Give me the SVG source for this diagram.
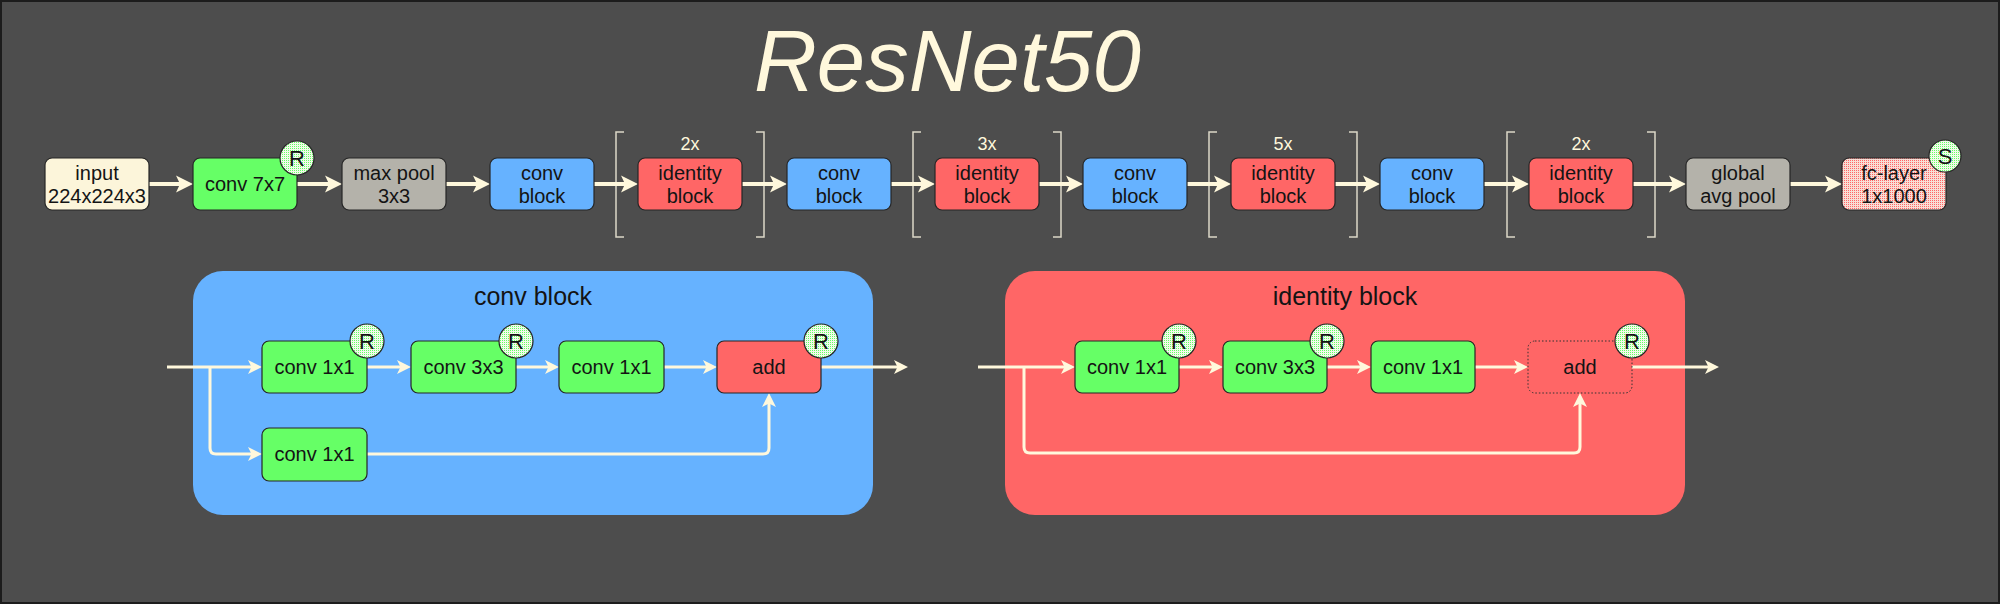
<svg xmlns="http://www.w3.org/2000/svg" width="2000" height="604" viewBox="0 0 2000 604">
<style>
.t{font-family:"Liberation Sans",Arial,sans-serif;font-size:20px;fill:#141414;text-anchor:middle}
.ttl{font-family:"Liberation Sans",Arial,sans-serif;font-size:25px;fill:#141414;text-anchor:middle}
.mul{font-family:"Liberation Sans",Arial,sans-serif;font-size:18px;fill:#FFF8DC;text-anchor:middle}
.badge{font-family:"Liberation Sans",Arial,sans-serif;font-size:22px;fill:#141414;text-anchor:middle}
.box{stroke:#262626;stroke-width:1.2}
.cream{fill:#FCF5DA}.green{fill:#66FF66}.grey{fill:#B4B2AA}.blue{fill:#66B2FF}.red{fill:#FF6666}
.circ{fill:url(#gdots);stroke:#262626;stroke-width:1.2}
.big{fill:none;stroke:#FFF8DC;stroke-width:4;marker-end:url(#ahBig)}
.sm{fill:none;stroke:#FFF8DC;stroke-width:3}
.sma{marker-end:url(#ahSm)}
.br{fill:none;stroke:#DCD8C8;stroke-width:1.5}
</style>
<defs>
<marker id="ahBig" markerUnits="userSpaceOnUse" viewBox="0 -9 18 18" markerWidth="18" markerHeight="18" refX="5" refY="0" orient="auto">
<path d="M0,-8.5 L17,0 L0,8.5 L4,0 Z" fill="#FFF8DC"/>
</marker>
<marker id="ahSm" markerUnits="userSpaceOnUse" viewBox="0 -8 16 16" markerWidth="16" markerHeight="16" refX="4" refY="0" orient="auto">
<path d="M0,-7 L14,0 L0,7 L3.5,0 Z" fill="#FFF8DC"/>
</marker>
<pattern id="gdots" width="2" height="2" patternUnits="userSpaceOnUse">
<rect width="2" height="2" fill="#F2FBEA"/>
<rect width="1" height="1" fill="#66FF66"/>
</pattern>
<pattern id="pdots" width="2" height="2" patternUnits="userSpaceOnUse">
<rect width="2" height="2" fill="#F8DED6"/>
<rect width="1" height="1" fill="#FF6666"/>
</pattern>
</defs>
<rect x="0" y="0" width="2000" height="604" fill="#4D4D4D"/>
<rect x="1" y="1" width="1998" height="602" fill="none" stroke="#1C1C1C" stroke-width="2"/>
<text x="754" y="91" font-family="'Liberation Sans',Arial,sans-serif" font-size="87" font-style="italic" fill="#FFF8DC">ResNet50</text>

<g id="brackets">
<path class="br" d="M624,132 H616 V237 H624"/><path class="br" d="M756,132 H764 V237 H756"/>
<path class="br" d="M921,132 H913 V237 H921"/><path class="br" d="M1053,132 H1061 V237 H1053"/>
<path class="br" d="M1217,132 H1209 V237 H1217"/><path class="br" d="M1349,132 H1357 V237 H1349"/>
<path class="br" d="M1515,132 H1507 V237 H1515"/><path class="br" d="M1647,132 H1655 V237 H1647"/>
<text class="mul" x="690" y="150">2x</text>
<text class="mul" x="987" y="150">3x</text>
<text class="mul" x="1283" y="150">5x</text>
<text class="mul" x="1581" y="150">2x</text>
</g>

<g id="panels">
<g id="convblock-panel"><rect x="193" y="271" width="680" height="244" rx="30" fill="#66B2FF"/><text class="ttl" x="533" y="305">conv block</text></g>
<g id="identityblock-panel"><rect x="1005" y="271" width="680" height="244" rx="30" fill="#FF6666"/><text class="ttl" x="1345" y="305">identity block</text></g>
</g>

<g id="connectors">
<path class="big" d="M149,184 H181"/>
<path class="big" d="M297,184 H330"/>
<path class="big" d="M446,184 H478"/>
<path class="big" d="M594,184 H626"/>
<path class="big" d="M742,184 H775"/>
<path class="big" d="M891,184 H923"/>
<path class="big" d="M1039,184 H1071"/>
<path class="big" d="M1187,184 H1219"/>
<path class="big" d="M1335,184 H1368"/>
<path class="big" d="M1484,184 H1517"/>
<path class="big" d="M1633,184 H1674"/>
<path class="big" d="M1790,184 H1830"/>
<path class="sm sma" d="M167,367 H252"/>
<path class="sm sma" d="M367,367 H401"/>
<path class="sm sma" d="M516,367 H549"/>
<path class="sm sma" d="M664,367 H707"/>
<path class="sm sma" d="M821,367 H898"/>
<path class="sm sma" d="M210,367 V448 Q210,454 216,454 H252"/>
<path class="sm sma" d="M367,454 H763 Q769,454 769,448 V403"/>
<path class="sm sma" d="M978,367 H1065"/>
<path class="sm sma" d="M1179,367 H1213"/>
<path class="sm sma" d="M1327,367 H1361"/>
<path class="sm sma" d="M1475,367 H1518"/>
<path class="sm sma" d="M1632,367 H1709"/>
<path class="sm sma" d="M1024,367 V447 Q1024,453 1030,453 H1574 Q1580,453 1580,447 V403"/>
</g>

<g id="input"><rect class="box cream" x="45" y="158" width="104" height="52" rx="7"/><text class="t" x="97" y="180">input</text><text class="t" x="97" y="203">224x224x3</text></g>
<g id="conv7x7"><rect class="box green" x="193" y="158" width="104" height="52" rx="7"/><text class="t" x="245" y="191">conv 7x7</text><circle class="circ" cx="297" cy="158" r="17"/><text class="badge" x="297" y="166">R</text></g>
<g id="maxpool"><rect class="box grey" x="342" y="158" width="104" height="52" rx="7"/><text class="t" x="394" y="180">max pool</text><text class="t" x="394" y="203">3x3</text></g>
<g id="convblock1"><rect class="box blue" x="490" y="158" width="104" height="52" rx="7"/><text class="t" x="542" y="180">conv</text><text class="t" x="542" y="203">block</text></g>
<g id="idblock1"><rect class="box red" x="638" y="158" width="104" height="52" rx="7"/><text class="t" x="690" y="180">identity</text><text class="t" x="690" y="203">block</text></g>
<g id="convblock2"><rect class="box blue" x="787" y="158" width="104" height="52" rx="7"/><text class="t" x="839" y="180">conv</text><text class="t" x="839" y="203">block</text></g>
<g id="idblock2"><rect class="box red" x="935" y="158" width="104" height="52" rx="7"/><text class="t" x="987" y="180">identity</text><text class="t" x="987" y="203">block</text></g>
<g id="convblock3"><rect class="box blue" x="1083" y="158" width="104" height="52" rx="7"/><text class="t" x="1135" y="180">conv</text><text class="t" x="1135" y="203">block</text></g>
<g id="idblock3"><rect class="box red" x="1231" y="158" width="104" height="52" rx="7"/><text class="t" x="1283" y="180">identity</text><text class="t" x="1283" y="203">block</text></g>
<g id="convblock4"><rect class="box blue" x="1380" y="158" width="104" height="52" rx="7"/><text class="t" x="1432" y="180">conv</text><text class="t" x="1432" y="203">block</text></g>
<g id="idblock4"><rect class="box red" x="1529" y="158" width="104" height="52" rx="7"/><text class="t" x="1581" y="180">identity</text><text class="t" x="1581" y="203">block</text></g>
<g id="globalpool"><rect class="box grey" x="1686" y="158" width="104" height="52" rx="7"/><text class="t" x="1738" y="180">global</text><text class="t" x="1738" y="203">avg pool</text></g>
<g id="fclayer"><rect class="box" fill="url(#pdots)" x="1842" y="158" width="104" height="52" rx="7"/><text class="t" x="1894" y="180">fc-layer</text><text class="t" x="1894" y="203">1x1000</text><circle class="circ" cx="1945" cy="156" r="16"/><text class="badge" x="1945" y="164">S</text></g>

<g id="cb-conv1"><rect class="box green" x="262" y="341" width="105" height="52" rx="7"/><text class="t" x="314.5" y="374">conv 1x1</text><circle class="circ" cx="367" cy="341" r="17"/><text class="badge" x="367" y="349">R</text></g>
<g id="cb-conv2"><rect class="box green" x="411" y="341" width="105" height="52" rx="7"/><text class="t" x="463.5" y="374">conv 3x3</text><circle class="circ" cx="516" cy="341" r="17"/><text class="badge" x="516" y="349">R</text></g>
<g id="cb-conv3"><rect class="box green" x="559" y="341" width="105" height="52" rx="7"/><text class="t" x="611.5" y="374">conv 1x1</text></g>
<g id="cb-add"><rect class="box red" x="717" y="341" width="104" height="52" rx="7"/><text class="t" x="769" y="374">add</text><circle class="circ" cx="821" cy="341" r="17"/><text class="badge" x="821" y="349">R</text></g>
<g id="cb-shortcut"><rect class="box green" x="262" y="428" width="105" height="53" rx="7"/><text class="t" x="314.5" y="461">conv 1x1</text></g>

<g id="ib-conv1"><rect class="box green" x="1075" y="341" width="104" height="52" rx="7"/><text class="t" x="1127" y="374">conv 1x1</text><circle class="circ" cx="1179" cy="341" r="17"/><text class="badge" x="1179" y="349">R</text></g>
<g id="ib-conv2"><rect class="box green" x="1223" y="341" width="104" height="52" rx="7"/><text class="t" x="1275" y="374">conv 3x3</text><circle class="circ" cx="1327" cy="341" r="17"/><text class="badge" x="1327" y="349">R</text></g>
<g id="ib-conv3"><rect class="box green" x="1371" y="341" width="104" height="52" rx="7"/><text class="t" x="1423" y="374">conv 1x1</text></g>
<g id="ib-add"><rect x="1528" y="341" width="104" height="52" rx="7" fill="#FF6666" stroke="#333" stroke-width="1" stroke-dasharray="1.5 2"/><text class="t" x="1580" y="374">add</text><circle class="circ" cx="1632" cy="341" r="17"/><text class="badge" x="1632" y="349">R</text></g>
</svg>
